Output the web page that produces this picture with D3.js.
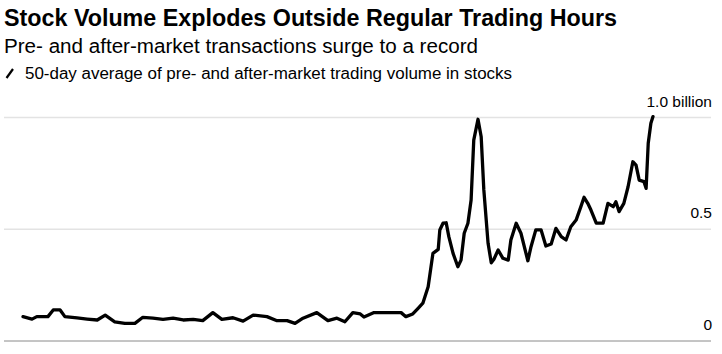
<!DOCTYPE html>
<html>
<head>
<meta charset="utf-8">
<script src="https://cdn.jsdelivr.net/npm/d3@7"></script>
<style>
  body { margin: 0; background: #fff; }
  svg { display: block; font-family: "Liberation Sans", Arial, sans-serif; }
</style>
</head>
<body>
<div id="chart"></div>
<script>
// days since 2017-11-01
const days = [0, 17, 26, 47, 57, 70, 79, 102, 121, 140, 155, 173, 192, 211, 226, 245, 264, 283, 302, 321,
  339, 358, 375, 396, 415, 434, 460, 479, 498, 513, 528, 554, 575, 592, 607, 622, 636, 643, 662, 713,
  722, 735, 745, 754, 764, 773, 783, 786, 792, 798, 803, 811, 820, 826, 832, 839, 845, 850, 858, 864,
  869, 877, 883, 888, 896, 905, 915, 920, 930, 939, 952, 958, 967, 977, 986, 996, 1005, 1015, 1024, 1033,
  1043, 1052, 1058, 1065, 1071, 1081, 1094, 1103, 1113, 1118, 1124, 1133, 1141, 1150, 1156, 1162, 1171, 1175, 1179, 1184,
  1188];
// 50-day average volume, billions of shares
const volume = [0.109, 0.098, 0.109, 0.109, 0.139, 0.139, 0.109, 0.103, 0.098, 0.094, 0.116, 0.086, 0.079, 0.079, 0.106, 0.102, 0.097, 0.102, 0.094, 0.097,
  0.091, 0.127, 0.097, 0.104, 0.089, 0.116, 0.109, 0.091, 0.091, 0.079, 0.102, 0.127, 0.091, 0.102, 0.086, 0.127, 0.121, 0.107, 0.127, 0.127,
  0.109, 0.121, 0.146, 0.169, 0.243, 0.392, 0.410, 0.497, 0.527, 0.529, 0.467, 0.392, 0.332, 0.362, 0.482, 0.527, 0.631, 0.899, 0.992, 0.914,
  0.676, 0.437, 0.350, 0.366, 0.407, 0.370, 0.362, 0.452, 0.527, 0.482, 0.359, 0.422, 0.497, 0.497, 0.425, 0.434, 0.504, 0.467, 0.452, 0.511,
  0.541, 0.601, 0.643, 0.616, 0.586, 0.527, 0.527, 0.616, 0.601, 0.623, 0.579, 0.616, 0.690, 0.802, 0.787, 0.720, 0.713, 0.683, 0.885, 0.974,
  1.004];
const yTicks = [0, 0.5, 1];
const yTickLabels = ['0', '0.5', '1.0 billion'];

const title = 'Stock Volume Explodes Outside Regular Trading Hours';
const subtitle = 'Pre- and after-market transactions surge to a record';
const legendText = '50-day average of pre- and after-market trading volume in stocks';

const width = 722, height = 354;
const svg = d3.select('#chart').append('svg')
  .attr('width', width)
  .attr('height', height);

const x = d3.scaleLinear().domain([0, d3.max(days)]).range([23, 653]);
const y = d3.scaleLinear().domain([0, 1]).range([341, 117.5]);

svg.append('text')
  .attr('x', 4).attr('y', 26)
  .attr('font-size', 23).attr('font-weight', 700)
  .attr('textLength', 613).attr('lengthAdjust', 'spacingAndGlyphs')
  .attr('fill', '#000')
  .text(title);

svg.append('text')
  .attr('x', 4).attr('y', 53)
  .attr('font-size', 19.5)
  .attr('textLength', 474).attr('lengthAdjust', 'spacingAndGlyphs')
  .attr('fill', '#000')
  .text(subtitle);

svg.append('line')
  .attr('x1', 6.5).attr('y1', 78).attr('x2', 13).attr('y2', 69)
  .attr('stroke', '#000').attr('stroke-width', 2.2);

svg.append('text')
  .attr('x', 25).attr('y', 78.5)
  .attr('font-size', 16)
  .attr('textLength', 487).attr('lengthAdjust', 'spacingAndGlyphs')
  .attr('fill', '#000')
  .text(legendText);

// gridlines
const grid = svg.append('g');
grid.selectAll('line')
  .data(yTicks)
  .enter().append('line')
  .attr('x1', 4).attr('x2', 711)
  .attr('y1', d => y(d)).attr('y2', d => y(d))
  .attr('stroke', d => d === 0 ? '#8a8a8a' : '#e3e3e3')
  .attr('stroke-width', d => d === 0 ? 1 : 1.5);

grid.selectAll('text')
  .data(yTicks)
  .enter().append('text')
  .attr('x', 712)
  .attr('y', d => y(d) - 11)
  .attr('text-anchor', 'end')
  .attr('font-size', 15.5)
  .attr('fill', '#000')
  .text((d, i) => yTickLabels[i]);

const line = d3.line()
  .x((d, i) => x(days[i]))
  .y(d => y(d));

svg.append('path')
  .datum(volume)
  .attr('fill', 'none')
  .attr('stroke', '#000')
  .attr('stroke-width', 3.3)
  .attr('stroke-linejoin', 'round')
  .attr('stroke-linecap', 'round')
  .attr('d', line);
</script>
</body>
</html>
